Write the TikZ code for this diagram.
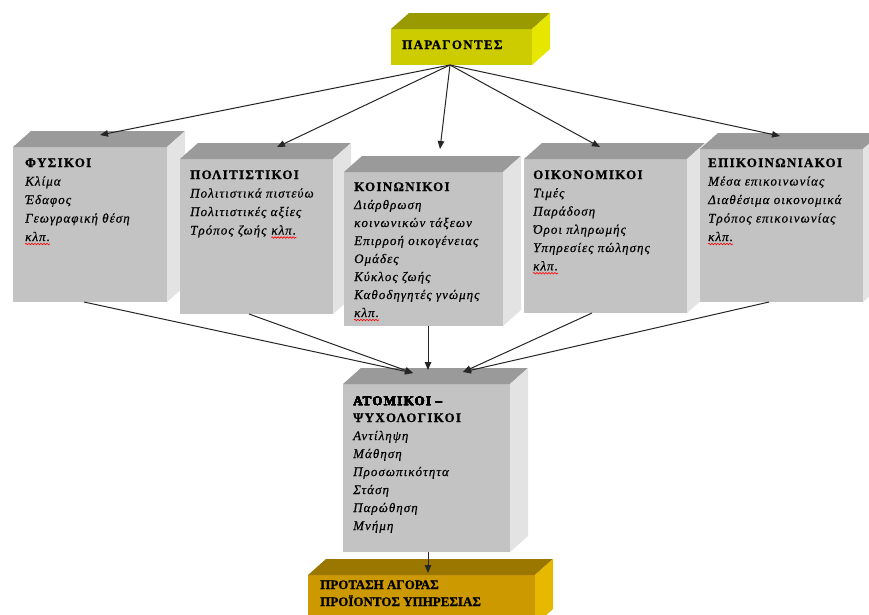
\documentclass[tikz,border=0pt]{standalone}
\usepackage{fontspec}
\setmainfont{Liberation Serif}
\usetikzlibrary{calc,arrows.meta,decorations.pathmorphing}
\definecolor{gfront}{HTML}{C3C3C3}
\definecolor{gtop}{HTML}{9A9A9A}
\definecolor{gside}{HTML}{E3E3E3}
\definecolor{yfront}{HTML}{CCCC00}
\definecolor{ytop}{HTML}{999900}
\definecolor{yside}{HTML}{E6E600}
\definecolor{ofront}{HTML}{CC9900}
\definecolor{otop}{HTML}{9C7700}
\definecolor{oside}{HTML}{E6B800}
\newcommand\cube[8]{%
  \node[frontbox, fill=#6, minimum width={(#4-#2)*1pt}, minimum height={(#5-#3)*1pt}] (#1) at (#2,#3) {};
  \fill[#7] (#1.north west) -- ++(18,-16) -- ($(#1.north east)+(18,-16)$) -- (#1.north east) -- cycle;
  \fill[#8] (#1.north east) -- ++(18,-16) -- ($(#1.south east)+(18,-16)$) -- (#1.south east) -- cycle;
}
\newcommand\squig[1]{\draw[wave] ($(#1.base west)+(0,3)$) -- ($(#1.base east)+(0,3)$);}
\tikzset{
  frontbox/.style={anchor=north west, inner sep=0pt, outer sep=0pt, draw=none, rectangle},
  head/.style={anchor=base west, inner sep=0pt, font=\fontsize{13}{15}\selectfont\bfseries\addfontfeatures{LetterSpace=10,FakeBold=0.8}},
  headc/.style={anchor=base west, inner sep=0pt, font=\fontsize{13}{15}\selectfont\bfseries\addfontfeatures{FakeBold=1}},
  item/.style={anchor=base west, inner sep=0pt, font=\fontsize{13}{15}\selectfont\itshape\addfontfeatures{LetterSpace=8,FakeBold=0.4}},
  arr/.style={-{Triangle[length=8pt,width=6.5pt]}, line width=1pt, draw=black!85},
  wave/.style={draw=red, line width=0.6pt, decorate, decoration={snake, amplitude=0.8pt, segment length=3pt}}
}
\begin{document}
\begin{tikzpicture}[x=1pt,y=-1pt]
\useasboundingbox (0,0) rectangle (869,614);
\clip (0,0) rectangle (869,614);
\fill[white] (0,0) rectangle (869,614);
% boxes
\cube{b0}{391}{29}{532}{65}{yfront}{ytop}{yside}
\cube{b1}{13}{147}{167}{302}{gfront}{gtop}{gside}
\cube{b2}{180}{159}{333}{314}{gfront}{gtop}{gside}
\cube{b3}{344}{172}{503}{326}{gfront}{gtop}{gside}
\cube{b4}{524}{159}{687}{313}{gfront}{gtop}{gside}
\cube{b5}{700}{149}{863}{302}{gfront}{gtop}{gside}
\cube{b6}{343}{384}{510}{552}{gfront}{gtop}{gside}
\cube{b7}{308}{575}{535}{625}{ofront}{otop}{oside}
% texts
\node[head] (h0) at (402,49) {ΠΑΡΑΓΟΝΤΕΣ};
\node[head] (h1) at (25,167) {ΦΥΣΙΚΟΙ};
\foreach \t [count=\i] in {Κλίμα, Έδαφος, Γεωγραφική θέση}
  \node[item] (h1-\i) at ($(h1.base west)+(0,\i*18.5)$) {\t};
\node[item] (k1) at ($(h1.base west)+(0,4*18.5)$) {κλπ.};
\node[head] (h2) at (190,179) {ΠΟΛΙΤΙΣΤΙΚΟΙ};
\foreach \t [count=\i] in {Πολιτιστικά πιστεύω, Πολιτιστικές αξίες, Τρόπος ζωής}
  \node[item] (h2-\i) at ($(h2.base west)+(0,\i*18.5)$) {\t};
\node[item] (k2) at ($(h2-3.base east)+(4.5,0)$) {κλπ.};
\node[head] (h3) at (354,191) {ΚΟΙΝΩΝΙΚΟΙ};
\foreach \t [count=\i] in {Διάρθρωση, κοινωνικών τάξεων, Επιρροή οικογένειας, Ομάδες, Κύκλος ζωής, Καθοδηγητές γνώμης}
  \node[item] (h3-\i) at ($(h3.base west)+(0,\i*18)$) {\t};
\node[item] (k3) at ($(h3.base west)+(0,7*18)$) {κλπ.};
\node[head] (h4) at (533,179) {ΟΙΚΟΝΟΜΙΚΟΙ};
\foreach \t [count=\i] in {Τιμές, Παράδοση, Όροι πληρωμής, Υπηρεσίες πώλησης}
  \node[item] (h4-\i) at ($(h4.base west)+(0,\i*18.25)$) {\t};
\node[item] (k4) at ($(h4.base west)+(0,5*18.25)$) {κλπ.};
\node[head] (h5) at (708,167) {ΕΠΙΚΟΙΝΩΝΙΑΚΟΙ};
\foreach \t [count=\i] in {Μέσα επικοινωνίας, Διαθέσιμα οικονομικά, Τρόπος επικοινωνίας}
  \node[item] (h5-\i) at ($(h5.base west)+(0,\i*18.5)$) {\t};
\node[item] (k5) at ($(h5.base west)+(0,4*18.5)$) {κλπ.};
\foreach \k in {k1,k2,k3,k4,k5} \squig{\k}
\node[head] (h6) at (353,405) {ΑΤΟΜΙΚΟΙ –};
\node[head] (h6b) at (353,422) {ΨΥΧΟΛΟΓΙΚΟΙ};
\foreach \t [count=\i] in {Αντίληψη, Μάθηση, Προσωπικότητα, Στάση, Παρώθηση, Μνήμη}
  \node[item] (h6-\i) at ($(h6b.base west)+(0,\i*18)$) {\t};
\node[headc] (h7) at (320,589) {ΠΡΟΤΑΣΗ ΑΓΟΡΑΣ};
\node[headc] (h7b) at (320,606) {ΠΡΟΪΟΝΤΟΣ ΥΠΗΡΕΣΙΑΣ};
% connector points
\coordinate (s0) at ($(b0.south west)+(59,0)$);
\coordinate (a1) at ($(b1.north west)+(87,-12)$);
\coordinate (a2) at ($(b2.north west)+(97,-12)$);
\coordinate (a3) at ($(b3.north west)+(96,-23)$);
\coordinate (a4) at ($(b4.north west)+(76,-12)$);
\coordinate (a5) at ($(b5.north west)+(80,-13)$);
\coordinate (s1) at ($(b1.south west)+(71,0)$);
\coordinate (s2) at ($(b2.south west)+(69,0)$);
\coordinate (s3) at ($(b3.south west)+(84,0)$);
\coordinate (s4) at ($(b4.south west)+(68,0)$);
\coordinate (s5) at ($(b5.south west)+(69,0)$);
\coordinate (tl) at ($(b6.north west)+(70,-11)$);
\coordinate (tm) at ($(b6.north west)+(85,-14)$);
\coordinate (tr) at ($(b6.north west)+(120,-12)$);
\coordinate (s6) at ($(b6.south west)+(85,0)$);
\coordinate (t7) at ($(b7.north west)+(120,-2)$);
% connectors
\foreach \a in {a1,a2,a3,a4,a5} \draw[arr] (s0) -- (\a);
\draw[arr] (s1) -- (tl);
\draw[arr] (s2) -- (tl);
\draw[arr] (s3) -- (tm);
\draw[arr] (s4) -- (tr);
\draw[arr] (s5) -- (tr);
\draw[arr] (s6) -- (t7);
\end{tikzpicture}
\end{document}
